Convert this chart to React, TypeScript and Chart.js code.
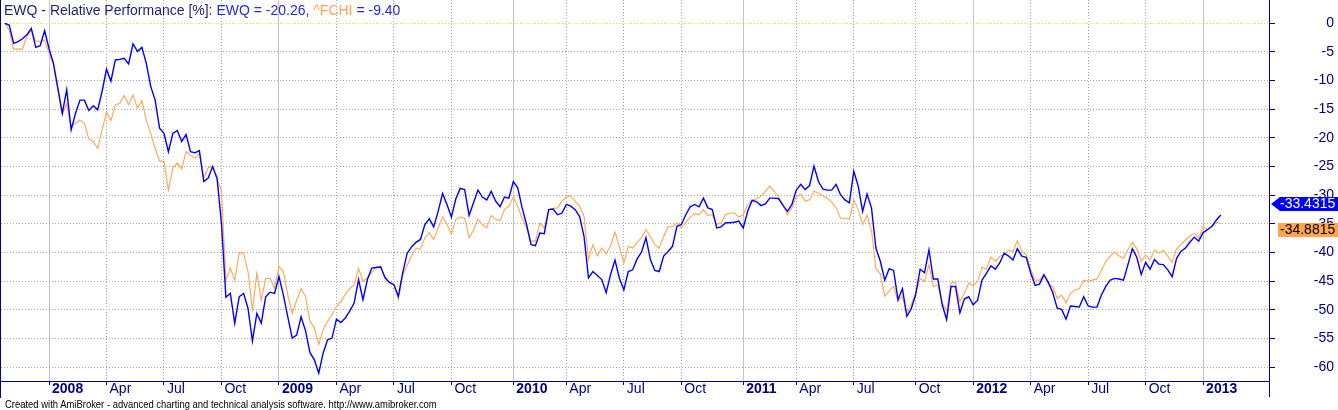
import { useEffect, useRef } from 'react';
import { Chart, registerables } from 'chart.js';

Chart.register(...registerables);

// EWQ relative performance (%), weekly bars
const ewq = [
  0, -0.3, -3.5, -3.2, -2.7, -2.0, -0.9, -4.2, -3.9, -1.3,
  -4.4, -7.0, -11.3, -15.7, -11.6, -18.6, -15.7, -13.4, -13.4, -15.2,
  -14.4, -15.1, -11.9, -8.0, -10.1, -6.4, -6.3, -6.1, -7.1, -3.6,
  -4.9, -4.2, -7.0, -11.0, -13.4, -18.3, -19.2, -22.4, -19.2, -18.7,
  -20.6, -19.4, -22.4, -22.6, -22.2, -27.6, -27.0, -25.0, -27.0, -34.9,
  -47.8, -47.1, -52.3, -47.7, -47.1, -49.7, -55.4, -50.6, -52.3, -47.7,
  -46.9, -47.1, -44.2, -47.4, -51.2, -54.9, -54.4, -51.2, -53.6, -57.4,
  -58.7, -61.0, -57.5, -55.2, -54.9, -51.6, -52.2, -51.4, -50.2, -48.8,
  -44.7, -48.2, -44.7, -42.7, -42.6, -42.5, -44.4, -45.2, -45.6, -47.6,
  -43.5, -40.1, -39.0, -38.2, -37.7, -35.1, -34.1, -35.5, -32.8, -29.7,
  -31.6, -33.8, -30.6, -28.8, -29.0, -33.5, -31.3, -29.1, -30.3, -30.8,
  -29.3, -31.0, -32.0, -30.3, -30.5, -27.6, -28.7, -32.2, -35.1, -38.6,
  -38.8, -36.6, -36.7, -32.5, -32.4, -33.4, -33.1, -31.6, -31.9, -32.5,
  -33.7, -37.2, -44.4, -43.3, -44.0, -44.7, -47.0, -43.8, -41.3, -44.5,
  -46.5, -43.3, -43.0, -41.1, -39.9, -37.4, -41.2, -43.1, -43.3, -40.6,
  -39.8, -38.9, -35.4, -35.1, -33.4, -32.0, -31.6, -32.0, -30.5, -32.2,
  -32.5, -35.7, -35.5, -34.8, -34.8, -34.7, -34.5, -35.7, -32.8, -30.9,
  -31.1, -31.8, -31.5, -30.5, -30.5, -30.6, -31.8, -32.8, -31.6, -29.1,
  -28.1, -29.0, -28.3, -24.9, -27.6, -28.9, -29.1, -29.1, -28.1, -29.9,
  -30.8, -31.3, -25.8, -28.4, -32.8, -29.8, -32.2, -39.2, -41.5, -44.8,
  -42.8, -43.1, -48.2, -46.3, -51.1, -49.8, -47.3, -42.9, -43.5, -39.5,
  -44.6, -44.6, -49.1, -51.7, -45.9, -45.9, -50.5, -48.1, -47.7, -49.1,
  -48.3, -44.8, -43.6, -42.3, -42.9, -41.8, -40.1, -40.6, -41.3, -39.3,
  -40.6, -40.8, -43.5, -45.7, -45.5, -43.9, -45.2, -47.0, -49.7, -49.9,
  -51.6, -49.3, -49.4, -49.5, -47.7, -49.3, -49.5, -49.5, -47.4, -45.9,
  -44.8, -44.5, -44.6, -44.8, -42.1, -39.3, -40.8, -43.8, -41.7, -42.9,
  -41.2, -42.0, -42.1, -43.0, -44.2, -41.0, -39.8, -39.2, -38.2, -37.3,
  -38.0, -36.5, -36.0, -35.4, -34.3, -33.4315,
];

// ^FCHI relative performance (%), weekly bars
const fchi = [
  0, -1.2, -4.5, -4.5, -4.5, -2.3, -1.2, -3.1, -3.2, -2.9,
  -5.2, -7.3, -11.6, -15.9, -14.0, -18.0, -17.4, -16.9, -17.4, -20.2,
  -20.6, -21.8, -18.6, -15.5, -17.0, -14.2, -14.0, -12.6, -14.2, -12.5,
  -14.8, -13.5, -16.9, -19.2, -21.8, -24.0, -24.1, -29.1, -25.3, -24.4,
  -25.4, -22.4, -23.0, -23.5, -22.7, -27.0, -25.2, -25.0, -27.3, -29.1,
  -44.8, -42.7, -44.8, -40.0, -40.1, -43.3, -50.0, -43.6, -48.3, -44.5,
  -44.5, -46.2, -42.4, -43.3, -47.4, -50.6, -48.3, -46.3, -47.6, -52.0,
  -53.1, -56.0, -53.4, -52.0, -50.8, -49.4, -48.5, -47.3, -46.3, -45.6,
  -42.8, -45.0, -44.4, -43.5, -42.5, -42.4, -44.4, -45.4, -45.6, -48.2,
  -44.0, -42.2, -40.6, -39.2, -39.4, -37.4, -36.5, -37.7, -35.7, -33.8,
  -35.1, -36.7, -34.2, -33.8, -34.0, -37.4, -36.1, -34.2, -35.1, -35.7,
  -33.5, -34.2, -34.4, -32.5, -31.9, -30.3, -32.0, -34.0, -35.7, -38.0,
  -38.0, -34.9, -35.7, -32.5, -32.3, -32.2, -31.0, -30.3, -30.1, -31.1,
  -31.9, -33.7, -41.2, -38.6, -40.6, -39.2, -40.2, -38.8, -36.4, -39.0,
  -41.8, -38.9, -39.2, -38.2, -37.4, -36.0, -37.2, -38.6, -39.2, -37.2,
  -35.5, -35.5, -34.8, -35.7, -34.7, -33.8, -33.2, -33.4, -32.5, -33.5,
  -33.4, -35.1, -34.8, -33.4, -33.1, -33.1, -33.8, -33.4, -31.6, -30.8,
  -30.6, -30.2, -29.3, -28.4, -29.3, -30.3, -31.6, -33.4, -32.2, -30.2,
  -29.8, -31.0, -30.8, -29.3, -29.6, -30.1, -30.5, -31.2, -32.2, -34.0,
  -34.0, -34.2, -30.8, -32.5, -35.1, -33.5, -36.1, -42.8, -43.7, -47.6,
  -46.7, -45.9, -48.5, -47.6, -50.6, -49.1, -47.0, -44.5, -45.0, -42.1,
  -45.9, -45.6, -48.8, -50.2, -45.3, -45.2, -48.5, -47.1, -45.3, -45.8,
  -45.0, -42.5, -42.9, -40.8, -41.5, -40.7, -40.2, -39.6, -39.8, -37.9,
  -39.7, -40.4, -42.9, -44.8, -44.8, -43.7, -45.5, -45.9, -48.0, -47.4,
  -48.8, -47.1, -46.5, -46.3, -44.8, -45.0, -44.8, -44.6, -43.1, -41.5,
  -40.6, -39.9, -40.6, -41.0, -39.5, -38.2, -39.3, -41.5, -40.4, -41.3,
  -39.6, -40.1, -39.6, -40.6, -41.7, -39.3, -38.6, -37.8, -37.1, -36.6,
  -37.5, -35.5, -35.9, -35.4, -34.7, -34.8815,
];

// bar index of the first weekly bar of each quarter, and its label
const xTickIndex = [10, 23, 36, 49, 62, 75, 88, 101, 115, 127, 140, 153, 167, 179, 192, 206, 219, 232, 245, 258, 271];
const xTickLabel = ['2008', 'Apr', 'Jul', 'Oct', '2009', 'Apr', 'Jul', 'Oct', '2010', 'Apr', 'Jul', 'Oct', '2011', 'Apr', 'Jul', 'Oct', '2012', 'Apr', 'Jul', 'Oct', '2013'];
const yTickValues = [0, -5, -10, -15, -20, -25, -30, -35, -40, -45, -50, -55, -60];

const titleLead = 'EWQ - Relative Performance [%]: ';
const titleEwq = 'EWQ = -20.26, ';
const titleFchiName = '^FCHI';
const titleFchiValue = ' = -9.40';
const footerText = 'Created with AmiBroker - advanced charting and technical analysis software. http://www.amibroker.com';

const NAVY = '#000080';
const BLUE = '#0000FF';
const ORANGE = '#FFA54F';
const FONT = '"Liberation Sans", Arial, sans-serif';

const isYear = (i: number) => /^\d{4}$/.test(xTickLabel[i] ?? '');

export default function App() {
  const canvasRef = useRef<HTMLCanvasElement | null>(null);

  useEffect(() => {
    const canvas = canvasRef.current;
    if (!canvas) return;

    const framePlugin = {
      id: 'framePlugin',
      afterDraw(chart: any) {
        const { ctx, chartArea } = chart;
        const yScale = chart.scales.y;
        ctx.save();
        ctx.strokeStyle = NAVY;
        ctx.lineWidth = 1;
        ctx.beginPath();
        ctx.moveTo(0.5, 0);
        ctx.lineTo(0.5, 398);
        ctx.moveTo(Math.round(chartArea.right) + 0.5, chartArea.bottom);
        ctx.lineTo(Math.round(chartArea.right) + 0.5, 397);
        ctx.stroke();

        const r = Math.round(chartArea.right);
        const lastE = ewq[ewq.length - 1];
        const lastF = fchi[fchi.length - 1];
        const cb = Math.round(yScale.getPixelForValue(lastE)) - 11;
        const co = Math.round(yScale.getPixelForValue(lastF)) + 7;

        ctx.fillStyle = BLUE;
        ctx.beginPath();
        ctx.moveTo(r + 2, cb);
        ctx.lineTo(r + 11, cb - 7);
        ctx.lineTo(1338, cb - 7);
        ctx.lineTo(1338, cb + 7);
        ctx.lineTo(r + 11, cb + 7);
        ctx.closePath();
        ctx.fill();

        ctx.fillStyle = ORANGE;
        ctx.fillRect(r + 9, co - 7, 1338 - r - 9, 14);

        ctx.font = `14px ${FONT}`;
        ctx.textBaseline = 'middle';
        ctx.textAlign = 'left';
        ctx.fillStyle = '#FFFFFF';
        ctx.fillText(lastE.toFixed(4), r + 11, cb + 0.5);
        ctx.fillStyle = '#000000';
        ctx.fillText(lastF.toFixed(4), r + 11, co + 0.5);
        ctx.restore();
      },
    };

    const chart = new Chart(canvas, {
      type: 'line',
      data: {
        datasets: [
          {
            label: 'EWQ',
            data: ewq.map((v, i) => ({ x: i, y: v })),
            borderColor: BLUE,
            borderWidth: 1.4,
            pointRadius: 0,
            tension: 0,
            fill: false,
          },
          {
            label: '^FCHI',
            data: fchi.map((v, i) => ({ x: i, y: v })),
            borderColor: ORANGE,
            borderWidth: 1.1,
            pointRadius: 0,
            tension: 0,
            fill: false,
          },
        ],
      },
      options: {
        responsive: false,
        animation: false,
        devicePixelRatio: 1,
        layout: { padding: { left: 1, right: 4, top: 0, bottom: 0 } },
        plugins: {
          legend: { display: false },
          tooltip: { enabled: false },
          title: { display: false },
        },
        scales: {
          x: {
            type: 'linear',
            position: 'bottom',
            min: -0.86,
            max: 285.9,
            afterBuildTicks: (s: any) => {
              s.ticks = xTickIndex.map((v) => ({ value: v }));
            },
            afterFit: (s: any) => {
              s.height = 29;
              s.paddingLeft = 0;
              s.paddingRight = 0;
            },
            grid: {
              color: (c: any) => (c.tick && isYear(c.index) ? '#C4C4C4' : '#A8A8A8'),
              lineWidth: 1,
              drawTicks: true,
              tickLength: 4,
              tickColor: NAVY,
              tickWidth: 1,
            },
            border: {
              display: true,
              color: NAVY,
              width: 1,
              dash: (c: any) => (c.tick && !isYear(c.index) ? [1, 2] : []),
            },
            ticks: {
              autoSkip: false,
              maxRotation: 0,
              minRotation: 0,
              align: 'start',
              labelOffset: 3,
              padding: -3,
              color: NAVY,
              font: (c: any) => ({ family: FONT, size: 14, weight: isYear(c.index) ? 'bold' : 'normal', lineHeight: 1 }),
              callback: (_v: any, i: number) => xTickLabel[i],
            },
          },
          y: {
            type: 'linear',
            position: 'right',
            min: -62.39,
            max: 4.06,
            afterBuildTicks: (s: any) => {
              s.ticks = yTickValues.map((v) => ({ value: v }));
            },
            afterFit: (s: any) => {
              s.width = 65;
              s.paddingTop = 0;
              s.paddingBottom = 0;
            },
            grid: {
              color: (c: any) => (c.tick && c.tick.value === 0 ? '#E6E600' : '#A8A8A8'),
              lineWidth: 1,
              drawTicks: true,
              tickLength: 6,
              tickColor: NAVY,
              tickWidth: 1,
            },
            border: {
              display: true,
              color: NAVY,
              width: 1,
              dash: (c: any) => (c.tick ? [1, 2] : []),
            },
            ticks: {
              crossAlign: 'far',
              padding: 0,
              color: NAVY,
              font: { family: FONT, size: 14, lineHeight: 1 },
              callback: (v: any) => String(v),
            },
          },
        },
      },
      plugins: [framePlugin],
    } as any);

    return () => chart.destroy();
  }, []);

  return (
    <div style={{ position: 'fixed', left: 0, top: 0, width: 1338, height: 410, background: '#FFFFFF', overflow: 'hidden' }}>
      <canvas ref={canvasRef} width={1338} height={410} style={{ display: 'block', width: 1338, height: 410 }} />
      <div
        style={{
          position: 'absolute',
          left: 4,
          top: 2.5,
          fontFamily: FONT,
          fontSize: 14,
          lineHeight: '14px',
          whiteSpace: 'nowrap',
        }}
      >
        <span style={{ color: '#1E1E78' }}>{titleLead}</span>
        <span style={{ color: '#2828E0' }}>{titleEwq}</span>
        <span style={{ color: ORANGE }}>{titleFchiName}</span>
        <span style={{ color: '#2828E0' }}>{titleFchiValue}</span>
      </div>
      <div
        style={{
          position: 'absolute',
          left: 5,
          top: 399,
          fontFamily: FONT,
          fontSize: 10.5,
          lineHeight: '10.5px',
          whiteSpace: 'nowrap',
          color: '#000000',
          transform: 'scaleX(0.9)',
          transformOrigin: '0 0',
        }}
      >
        {footerText}
      </div>
    </div>
  );
}
